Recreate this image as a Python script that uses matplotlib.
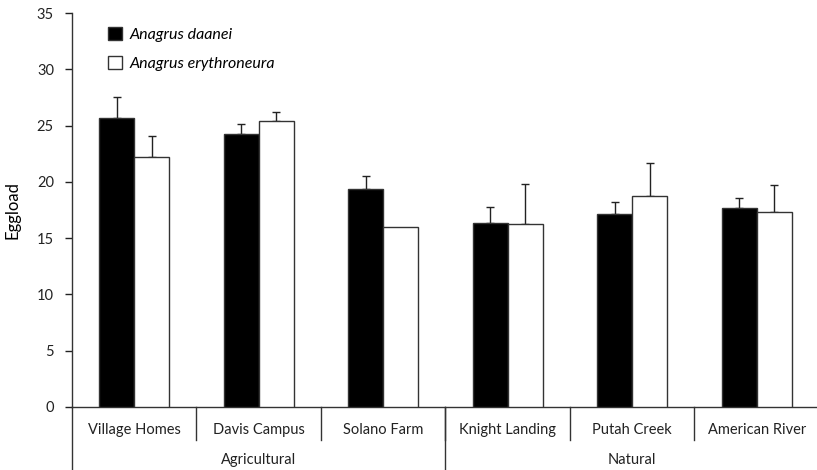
import matplotlib
matplotlib.use("Agg")
import matplotlib.pyplot as plt
from matplotlib.patches import Patch
from matplotlib.lines import Line2D
import numpy as np

plt.rcParams['font.family'] = ['Lato', 'DejaVu Sans']

sites = ["Village Homes", "Davis Campus", "Solano Farm", "Knight Landing", "Putah Creek", "American River"]
groups = ["Agricultural", "Natural"]
group_sizes = [3, 3]
daanei = [25.7, 24.25, 19.35, 16.35, 17.15, 17.7]
daanei_err = [1.8, 0.85, 1.2, 1.4, 1.05, 0.85]
erythro = [22.25, 25.4, 16.0, 16.3, 18.7, 17.3]
erythro_err = [1.85, 0.85, 0.0, 3.55, 2.95, 2.4]
series_names = ["Anagrus daanei", "Anagrus erythroneura"]

W, H = 817, 470
fig = plt.figure(figsize=(W/100, H/100), dpi=100)
ax = fig.add_axes([72/W, 1-407/H, 747/W, 394/H])

x = np.arange(len(sites)) + 0.5
bw = 0.28
ekw = dict(fmt='none', ecolor='#222222', elinewidth=1, capsize=3, capthick=1, zorder=2)
for offs, vals, errs, fc in [(-bw/2, daanei, daanei_err, 'black'), (bw/2, erythro, erythro_err, 'white')]:
    ax.bar(x + offs, vals, bw, color=fc, edgecolor='#333333', linewidth=1, zorder=3)
    idx = [i for i, e in enumerate(errs) if e > 0]
    ax.errorbar([x[i] + offs for i in idx], [vals[i] for i in idx],
                yerr=[[0]*len(idx), [errs[i] for i in idx]], **ekw)

ax.set_xlim(0, len(sites))
ax.set_ylim(0, 35)
ax.set_yticks(range(0, 36, 5))
ax.set_xticks([])
ax.tick_params(axis='y', direction='out', length=5, width=1, labelsize=10.5, colors='#222222', pad=8)
for s in ['top', 'right']:
    ax.spines[s].set_visible(False)
for s in ['left', 'bottom']:
    ax.spines[s].set_color('#333333')
    ax.spines[s].set_linewidth(1)
ax.set_ylabel("Eggload", fontsize=12, labelpad=12)

trans = ax.get_xaxis_transform()
px = 1/394  # axes fraction per pixel vertically
for i, name in enumerate(sites):
    ax.text(x[i], -23*px, name, transform=trans, ha='center', va='center', fontsize=10.5, color='#222222')
for b in range(1, len(sites)):
    ax.add_line(Line2D([b, b], [0, -33*px], transform=trans, color='#333333', lw=1, clip_on=False))
ax.add_line(Line2D([0, 0], [0, -63*px], transform=trans, color='#333333', lw=1, clip_on=False))
start = 0
for g, n in zip(groups, group_sizes):
    ax.text(start + n/2, -53*px, g, transform=trans, ha='center', va='center', fontsize=10.5, color='#222222')
    start += n
    if start < len(sites):
        ax.add_line(Line2D([start, start], [0, -63*px], transform=trans, color='#333333', lw=1, clip_on=False))

handles = [Patch(facecolor='black', edgecolor='#333333', lw=1),
           Patch(facecolor='white', edgecolor='#333333', lw=1)]
leg = ax.legend(handles, series_names, loc='upper left', bbox_to_anchor=((108-72)/747, (407-27)/394),
                frameon=False, borderpad=0, borderaxespad=0, handlelength=0.85, handleheight=0.85,
                handletextpad=0.5, labelspacing=0.9, prop=dict(size=11.5, style='italic'))

fig.savefig("out.png", dpi=100)
